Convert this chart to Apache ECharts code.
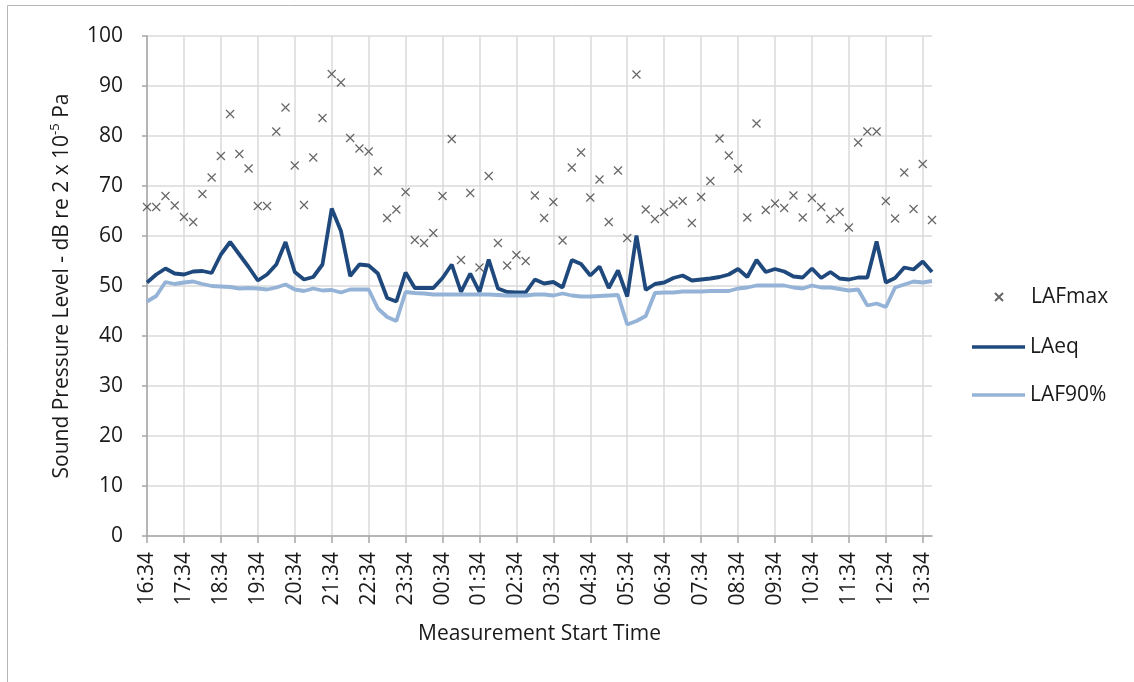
<!DOCTYPE html>
<html>
<head>
<meta charset="utf-8">
<script src="https://cdn.jsdelivr.net/npm/echarts@6/dist/echarts.min.js"></script>
<style>
  html, body { margin: 0; padding: 0; background: #fff; }
  #chart { width: 1134px; height: 682px; }
</style>
</head>
<body>
<div id="chart"></div>
<script>
// 15-minute measurement start times
const times = [
  "16:34","16:49","17:04","17:19","17:34","17:49","18:04","18:19",
  "18:34","18:49","19:04","19:19","19:34","19:49","20:04","20:19",
  "20:34","20:49","21:04","21:19","21:34","21:49","22:04","22:19",
  "22:34","22:49","23:04","23:19","23:34","23:49","00:04","00:19",
  "00:34","00:49","01:04","01:19","01:34","01:49","02:04","02:19",
  "02:34","02:49","03:04","03:19","03:34","03:49","04:04","04:19",
  "04:34","04:49","05:04","05:19","05:34","05:49","06:04","06:19",
  "06:34","06:49","07:04","07:19","07:34","07:49","08:04","08:19",
  "08:34","08:49","09:04","09:19","09:34","09:49","10:04","10:19",
  "10:34","10:49","11:04","11:19","11:34","11:49","12:04","12:19",
  "12:34","12:49","13:04","13:19","13:34","13:49"
]

const lafMax = [
  65.8, 65.8, 68.0, 66.1, 63.8, 62.8, 68.4, 71.7, 76.0, 84.4, 76.4, 73.5, 66.0, 66.0, 80.9,
  85.7, 74.1, 66.2, 75.7, 83.6, 92.4, 90.7, 79.6, 77.5, 76.9, 73.0, 63.6, 65.3, 68.8,
  59.2, 58.6, 60.6, 68.0, 79.4, 55.2, 68.6, 53.7, 72.0, 58.6, 54.1, 56.2, 55.0, 68.1,
  63.6, 66.8, 59.1, 73.7, 76.7, 67.7, 71.3, 62.8, 73.1, 59.6, 92.3, 65.3, 63.4, 64.8,
  66.3, 67.0, 62.6, 67.8, 71.0, 79.5, 76.1, 73.5, 63.7, 82.5, 65.2, 66.5, 65.6, 68.1,
  63.7, 67.6, 65.8, 63.4, 64.8, 61.7, 78.7, 80.9, 80.9, 67.0, 63.5, 72.7, 65.4, 74.4, 63.2
]

const laEq = [
  50.7, 52.3, 53.5, 52.5, 52.3, 52.9, 53.0, 52.6, 56.3, 58.8, 56.3, 53.8, 51.1, 52.3, 54.3, 58.8, 52.8, 51.3, 51.8, 54.3,
  65.5, 61.0, 52.0, 54.3, 54.1, 52.5, 47.6, 46.9, 52.7, 49.6, 49.6, 49.6, 51.6, 54.3, 48.8, 52.5, 48.8, 55.3, 49.5, 48.8, 48.7, 48.7,
  51.3, 50.5, 50.8, 49.7, 55.2, 54.4, 52.1, 53.9, 49.6, 53.1, 47.9, 60.1, 49.2, 50.4, 50.7, 51.6, 52.1, 51.1, 51.3, 51.5, 51.8, 52.3,
  53.4, 51.8, 55.2, 52.8, 53.4, 52.9, 51.9, 51.7, 53.5, 51.6, 52.8, 51.5, 51.3, 51.7, 51.7, 58.9, 50.7, 51.6, 53.7, 53.3, 54.9, 52.8
]

const laf90 = [
  46.9, 48.0, 50.8, 50.4, 50.7, 50.9, 50.4, 50.0, 49.9, 49.8, 49.5, 49.6, 49.5, 49.3, 49.7, 50.3, 49.3, 49.0, 49.5, 49.1, 49.2,
  48.7, 49.3, 49.3, 49.3, 45.5, 43.8, 43.0, 48.8, 48.6, 48.5, 48.3, 48.3, 48.3, 48.3, 48.3, 48.3, 48.3, 48.2, 48.1, 48.1, 48.1,
  48.3, 48.3, 48.1, 48.5, 48.1, 47.9, 47.9, 48.0, 48.1, 48.2, 42.3, 43.0, 44.0, 48.6, 48.7, 48.7, 48.9, 48.9, 48.9, 49.0, 49.0, 49.0,
  49.5, 49.7, 50.1, 50.1, 50.1, 50.1, 49.7, 49.5, 50.1, 49.7, 49.7, 49.4, 49.1, 49.3, 46.1, 46.5, 45.8, 49.7, 50.3, 50.9, 50.7, 51.0
]

const yTicks = { min: 0, max: 100, interval: 10 }

const font = "'Open Sans', sans-serif"
const textColor = "#1a1a1a"
const axisColor = "#a6a6a6"
const gridColor = "#dadada"
const darkBlue = "#1f497d"
const lightBlue = "#95b3d7"

const chart = echarts.init(document.getElementById("chart"))

const legendText = { fontFamily: font, fontSize: 21, color: textColor, lineHeight: 24 }

chart.setOption({
  animation: false,
  backgroundColor: "#fff",
  textStyle: { fontFamily: font },
  graphic: [
    {
      type: "rect",
      silent: true,
      z: -10,
      shape: { x: 7.5, y: 5.5, width: 1200, height: 800 },
      style: { fill: "none", stroke: "#b5b5b5", lineWidth: 1 },
    },
  ],
  legend: [
    {
      orient: "vertical",
      left: 994,
      top: 285,
      padding: 0,
      itemWidth: 8,
      itemHeight: 8,
      data: ["LAFmax"],
      textStyle: { ...legendText, padding: [0, 0, 0, 23] },
    },
    {
      orient: "vertical",
      left: 972,
      top: 335,
      padding: 0,
      itemWidth: 53,
      itemHeight: 3.5,
      itemGap: 24,
      data: [
        { name: "LAeq", icon: "rect" },
        { name: "LAF90%", icon: "rect" },
      ],
      textStyle: legendText,
    },
  ],
  grid: {
    left: 147,
    right: 202,
    top: 36,
    bottom: 146,
  },
  xAxis: {
    type: "category",
    boundaryGap: false,
    data: times,
    name: "Measurement Start Time",
    nameLocation: "middle",
    nameGap: 88,
    nameTextStyle: { fontFamily: font, fontSize: 21, color: textColor },
    axisLine: { lineStyle: { color: axisColor, width: 1.5 } },
    axisTick: { interval: 3, length: 7, lineStyle: { color: axisColor, width: 1.5 } },
    axisLabel: {
      interval: 3,
      rotate: 90,
      margin: 16,
      fontFamily: font,
      fontSize: 21,
      color: textColor,
    },
    splitLine: { show: true, interval: 3, lineStyle: { color: gridColor, width: 1.5 } },
  },
  yAxis: {
    type: "value",
    min: yTicks.min,
    max: yTicks.max,
    interval: yTicks.interval,
    name: "Sound Pressure Level - dB re 2 x 10{sup|-5} Pa",
    nameLocation: "middle",
    nameGap: 72,
    nameTextStyle: {
      fontFamily: font,
      fontSize: 21,
      color: textColor,
      rich: {
        sup: { fontFamily: font, fontSize: 13, color: textColor, verticalAlign: "top", lineHeight: 26 },
      },
    },
    axisLine: { show: true, lineStyle: { color: axisColor, width: 1.5 } },
    axisTick: { show: true, length: 5, lineStyle: { color: axisColor, width: 1.5 } },
    axisLabel: { margin: 24, fontFamily: font, fontSize: 21, color: textColor },
    splitLine: { lineStyle: { color: gridColor, width: 1.5 } },
  },
  series: [
    {
      name: "LAFmax",
      type: "scatter",
      symbol: "path://M0,0L10,10M0,10L10,0",
      symbolSize: 8,
      itemStyle: { color: "#404040", borderColor: "#404040", borderWidth: 1.2 },
      data: lafMax,
      z: 3,
    },
    {
      name: "LAeq",
      type: "line",
      symbol: "none",
      lineStyle: { color: darkBlue, width: 3.8 },
      itemStyle: { color: darkBlue },
      data: laEq,
      z: 2,
    },
    {
      name: "LAF90%",
      type: "line",
      symbol: "none",
      lineStyle: { color: lightBlue, width: 3.8 },
      itemStyle: { color: lightBlue },
      data: laf90,
      z: 2,
    },
  ],
})
</script>
</body>
</html>
